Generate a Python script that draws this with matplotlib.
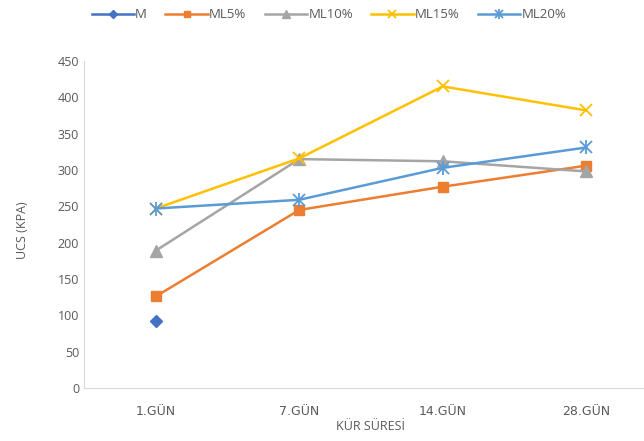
import matplotlib
matplotlib.use('Agg')
import matplotlib.pyplot as plt
from matplotlib.legend_handler import HandlerTuple

# Chart data
days = ['1.GÜN', '7.GÜN', '14.GÜN', '28.GÜN']
m_vals = [92]
ml5 = [126, 245, 277, 306]
ml10 = [189, 315, 312, 298]
ml15 = [247, 316, 415, 382]
ml20 = [247, 259, 303, 331]
y_ticks = [0, 50, 100, 150, 200, 250, 300, 350, 400, 450]

plt.rcParams['font.family'] = ['Open Sans', 'DejaVu Sans']
text_color = '#595959'

fig = plt.figure(figsize=(6.44, 4.41), dpi=100)
# plot area runs a bit past the right edge like in the reference
ax = fig.add_axes([84 / 644, 53 / 441, 574 / 644, 327 / 441])

x = list(range(len(days)))

h_m, = ax.plot(x[:len(m_vals)], m_vals, color='#4472C4', marker='D',
               markersize=6, linewidth=1.8, label='M')
h5, = ax.plot(x, ml5, color='#ED7D31', marker='s', markersize=7,
              linewidth=1.8, label='ML5%')
h10, = ax.plot(x, ml10, color='#A5A5A5', marker='^', markersize=8,
               linewidth=1.8, label='ML10%')
h15, = ax.plot(x, ml15, color='#FFC000', marker='x', markersize=8,
               markeredgewidth=1.3, linewidth=1.8, label='ML15%')
h20, = ax.plot(x, ml20, color='#5B9BD5', marker='x', markersize=8,
               markeredgewidth=1.3, linewidth=1.8, label='ML20%')
h20b, = ax.plot(x, ml20, color='#5B9BD5', marker='|', markersize=10,
                markeredgewidth=1.3, linestyle='none')

ax.set_xlim(-0.5, 3.5)
ax.set_ylim(0, 450)
ax.set_xticks(x)
ax.set_xticklabels(days)
ax.set_yticks(y_ticks)
ax.tick_params(length=0, colors=text_color, labelsize=9)
ax.tick_params(axis='x', pad=12)
for lab in ax.get_xticklabels():
    lab.set_fontfamily(['DejaVu Sans'])
    lab.set_fontsize(9)

for side in ['top', 'right']:
    ax.spines[side].set_visible(False)
for side in ['left', 'bottom']:
    ax.spines[side].set_color('#D9D9D9')

fig.text(22 / 644, 1 - 230 / 441, 'UCS (KPA)', rotation=90, ha='center',
         va='center', color=text_color, fontsize=9)
fig.text(370 / 644, 1 - 427 / 441, 'KÜR SÜRESİ', ha='center', va='center',
         color=text_color, fontsize=9)

fig.legend([h_m, h5, h10, h15, (h20, h20b)],
           ['M', 'ML5%', 'ML10%', 'ML15%', 'ML20%'],
           handler_map={tuple: HandlerTuple(ndivide=1)},
           loc='center', bbox_to_anchor=(329 / 644, 1 - 15 / 441),
           ncol=5, frameon=False, fontsize=9.5, handlelength=3.2,
           handletextpad=0.1, columnspacing=1.4, markerscale=0.7,
           labelcolor=text_color)

fig.savefig('out.png', dpi=100)
